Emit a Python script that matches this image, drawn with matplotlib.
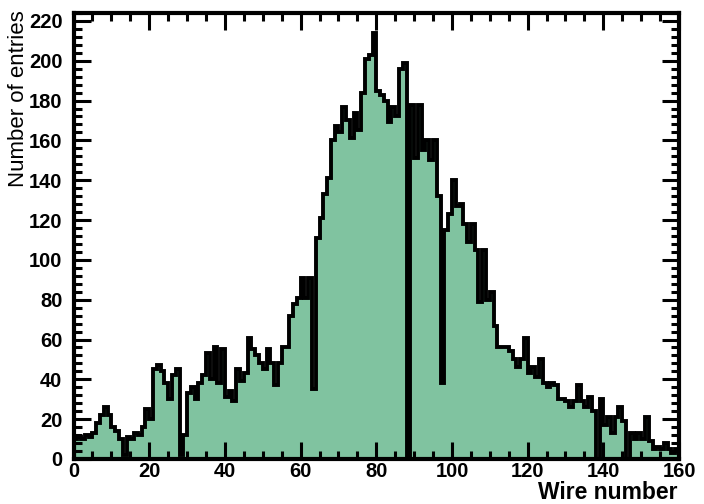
import matplotlib.pyplot as plt
import numpy as np
from matplotlib.ticker import MultipleLocator

# entries per wire, wires 0..159
counts = [10, 11, 10, 12, 11, 13, 18, 22, 26, 22,
          16, 14, 10, 2, 11, 10, 13, 12, 16, 25,
          20, 45, 47, 44, 38, 30, 42, 45, 2, 12,
          33, 36, 30, 38, 42, 53, 40, 56, 38, 55,
          31, 34, 29, 45, 39, 43, 61, 55, 52, 48,
          45, 55, 48, 37, 48, 56, 56, 72, 78, 81,
          91, 81, 91, 35, 111, 121, 133, 141, 160, 167,
          164, 177, 170, 161, 174, 165, 184, 201, 203, 214,
          185, 183, 180, 169, 177, 172, 196, 199, 0, 178,
          151, 178, 155, 160, 150, 160, 132, 38, 115, 123,
          140, 127, 128, 118, 109, 118, 105, 79, 105, 80,
          84, 67, 56, 56, 56, 54, 50, 46, 50, 61,
          43, 46, 41, 50, 38, 36, 38, 37, 30, 30,
          29, 26, 29, 37, 29, 26, 31, 24, 0, 30,
          17, 21, 13, 21, 26, 19, 0, 13, 10, 13,
          10, 21, 9, 5, 6, 5, 8, 5, 3, 5]
edges = np.arange(0, 161)

fig = plt.figure(figsize=(7.04, 5.04), dpi=100)
ax = fig.add_axes([0.1045, 0.0893, 0.86, 0.885])

ax.stairs(counts, edges, fill=True, color='#80c3a0', linewidth=0)
ax.stairs(counts, edges, baseline=0, color='black', linewidth=2.8)

ax.set_xlim(0, 160)
ax.set_ylim(0, 224)

ax.xaxis.set_major_locator(MultipleLocator(20))
ax.xaxis.set_minor_locator(MultipleLocator(5))
ax.yaxis.set_major_locator(MultipleLocator(20))
ax.yaxis.set_minor_locator(MultipleLocator(4))
ax.tick_params(which='both', direction='in', top=True, right=True,
               width=2.2, color='black')
ax.tick_params(which='major', length=12, labelsize=14.5)
ax.tick_params(axis='x', which='major', pad=2)
ax.tick_params(axis='y', which='major', pad=8)
ax.tick_params(which='minor', length=6)
for lab in ax.get_xticklabels() + ax.get_yticklabels():
    lab.set_fontweight('bold')
    lab.set_family('Liberation Sans')

for s in ax.spines.values():
    s.set_linewidth(3)

fig.text(0.963, 0.0, 'Wire number', ha='right', va='bottom',
         fontsize=16.5, fontweight='bold', family='Liberation Sans')
fig.text(0.026, 0.98, 'Number of entries', ha='center', va='top', rotation=90,
         fontsize=16, family='Liberation Sans')

fig.savefig('out.png')
